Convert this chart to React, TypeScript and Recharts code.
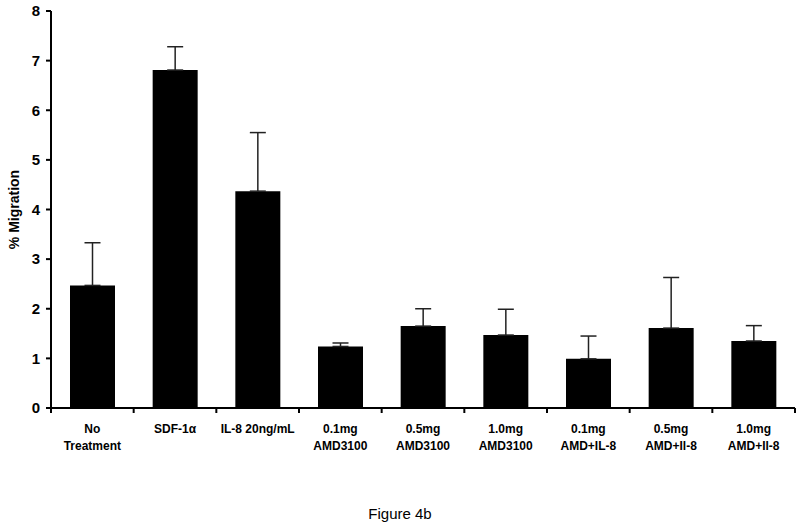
import React from 'react';
import { BarChart, Bar, XAxis, YAxis, ErrorBar, Label } from 'recharts';

const categories = [
  'No\nTreatment',
  'SDF-1α',
  'IL-8 20ng/mL',
  '0.1mg\nAMD3100',
  '0.5mg\nAMD3100',
  '1.0mg\nAMD3100',
  '0.1mg\nAMD+IL-8',
  '0.5mg\nAMD+Il-8',
  '1.0mg\nAMD+Il-8',
];
const migration = [2.47, 6.81, 4.37, 1.24, 1.65, 1.47, 0.99, 1.61, 1.35];
const sem = [0.86, 0.47, 1.18, 0.07, 0.35, 0.52, 0.46, 1.02, 0.31];
const yTicks = [0, 1, 2, 3, 4, 5, 6, 7, 8];

const data = categories.map((name, i) => ({
  name,
  value: migration[i],
  err: [0, sem[i]],
}));

const W = 800;
const H = 527;
const LEFT = 51;
const RIGHT = 5;
const HALF_BAND = (W - LEFT - RIGHT) / categories.length / 2;
const FONT = 'Arial, "Liberation Sans", Helvetica, sans-serif';

const CategoryTick = (props: any) => {
  const { x, payload, index } = props;
  const lines = String(payload.value).split('\n');
  const axisY = 408;
  return (
    <g>
      <line x1={x - HALF_BAND} x2={x - HALF_BAND} y1={axisY} y2={axisY + 5} stroke="#000" strokeWidth={2} />
      {index === categories.length - 1 && (
        <line x1={x + HALF_BAND} x2={x + HALF_BAND} y1={axisY} y2={axisY + 5} stroke="#000" strokeWidth={2} />
      )}
      <text x={x} y={axisY + 25} textAnchor="middle" fontFamily={FONT} fontWeight="bold" fontSize={12} fill="#000">
        {lines.map((l, i) => (
          <tspan key={i} x={x} dy={i === 0 ? 0 : 17}>{l}</tspan>
        ))}
      </text>
    </g>
  );
};

export default function App() {
  return (
    <div style={{ position: 'absolute', left: 0, top: 0, width: W, height: H, background: '#fff' }}>
      <BarChart
        width={W}
        height={H}
        data={data}
        margin={{ top: 11, right: RIGHT, left: 0, bottom: 79 }}
        barSize={45}
      >
        <XAxis
          dataKey="name"
          interval={0}
          height={40}
          tickLine={false}
          axisLine={{ stroke: '#000', strokeWidth: 2 }}
          tick={<CategoryTick />}
        />
        <YAxis
          width={LEFT}
          domain={[0, 8]}
          ticks={yTicks}
          interval={0}
          tickSize={5}
          tickMargin={6}
          axisLine={{ stroke: '#000', strokeWidth: 2 }}
          tickLine={{ stroke: '#000', strokeWidth: 2 }}
          tick={{ fill: '#000', fontSize: 15, fontWeight: 'bold', fontFamily: FONT }}
        >
          <Label
            value="% Migration"
            angle={-90}
            position="insideLeft"
            offset={14}
            style={{ textAnchor: 'middle', fill: '#000', fontSize: 14, fontWeight: 'bold', fontFamily: FONT }}
          />
        </YAxis>
        <Bar dataKey="value" fill="#000" isAnimationActive={false}>
          <ErrorBar dataKey="err" width={8} stroke="#222" strokeWidth={1.5} direction="y" />
        </Bar>
      </BarChart>
      <div
        style={{
          position: 'absolute',
          left: 0,
          width: W,
          top: 505,
          textAlign: 'center',
          fontFamily: FONT,
          fontSize: 15,
          color: '#000',
        }}
      >
        Figure 4b
      </div>
    </div>
  );
}
